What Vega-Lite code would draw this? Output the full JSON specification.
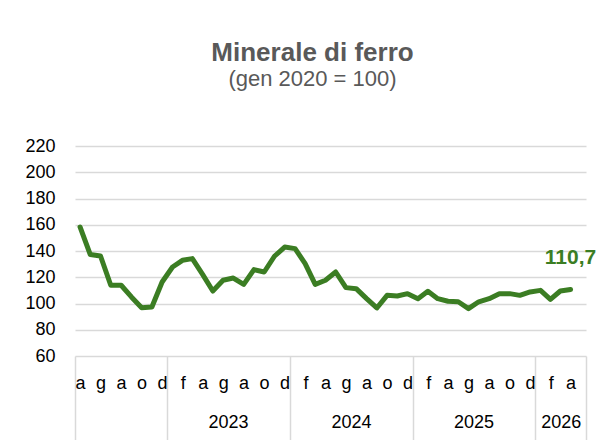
{
  "$schema": "https://vega.github.io/schema/vega-lite/v6.json",
  "width": 511,
  "height": 210,
  "autosize": {"type": "none"},
  "padding": {"left": 75, "top": 146, "right": 19, "bottom": 84},
  "background": "white",
  "config": {
    "font": "Liberation Sans, Arial, sans-serif",
    "view": {"stroke": null},
    "locale": {"number": {"decimal": ",", "thousands": ".", "grouping": [3], "currency": ["€", ""]}}
  },
  "title": {
    "text": "Minerale di ferro",
    "subtitle": "(gen 2020 = 100)",
    "anchor": "middle",
    "dx": -18,
    "offset": 47,
    "font": "Liberation Sans, Arial, sans-serif",
    "fontSize": 26,
    "fontWeight": "bold",
    "color": "#595959",
    "subtitleFont": "Liberation Sans, Arial, sans-serif",
    "subtitleFontSize": 22,
    "subtitleColor": "#595959",
    "subtitlePadding": 3
  },
  "data": {
    "values": [
      {"mese": "2022-04", "valore": 158.3},
      {"mese": "2022-05", "valore": 137.3},
      {"mese": "2022-06", "valore": 136.2},
      {"mese": "2022-07", "valore": 113.9},
      {"mese": "2022-08", "valore": 113.9},
      {"mese": "2022-09", "valore": 105.0},
      {"mese": "2022-10", "valore": 96.8},
      {"mese": "2022-11", "valore": 97.3},
      {"mese": "2022-12", "valore": 116.4},
      {"mese": "2023-01", "valore": 127.8},
      {"mese": "2023-02", "valore": 132.9},
      {"mese": "2023-03", "valore": 134.2},
      {"mese": "2023-04", "valore": 122.2},
      {"mese": "2023-05", "valore": 109.5},
      {"mese": "2023-06", "valore": 117.7},
      {"mese": "2023-07", "valore": 119.4},
      {"mese": "2023-08", "valore": 114.6},
      {"mese": "2023-09", "valore": 125.8},
      {"mese": "2023-10", "valore": 124.0},
      {"mese": "2023-11", "valore": 136.0},
      {"mese": "2023-12", "valore": 143.0},
      {"mese": "2024-01", "valore": 141.8},
      {"mese": "2024-02", "valore": 130.4},
      {"mese": "2024-03", "valore": 114.6},
      {"mese": "2024-04", "valore": 117.7},
      {"mese": "2024-05", "valore": 124.0},
      {"mese": "2024-06", "valore": 112.1},
      {"mese": "2024-07", "valore": 111.3},
      {"mese": "2024-08", "valore": 103.7},
      {"mese": "2024-09", "valore": 96.6},
      {"mese": "2024-10", "valore": 106.2},
      {"mese": "2024-11", "valore": 105.7},
      {"mese": "2024-12", "valore": 107.5},
      {"mese": "2025-01", "valore": 103.7},
      {"mese": "2025-02", "valore": 109.3},
      {"mese": "2025-03", "valore": 103.7},
      {"mese": "2025-04", "valore": 101.7},
      {"mese": "2025-05", "valore": 101.3},
      {"mese": "2025-06", "valore": 96.1},
      {"mese": "2025-07", "valore": 101.3},
      {"mese": "2025-08", "valore": 103.7},
      {"mese": "2025-09", "valore": 107.5},
      {"mese": "2025-10", "valore": 107.5},
      {"mese": "2025-11", "valore": 106.2},
      {"mese": "2025-12", "valore": 108.8},
      {"mese": "2026-01", "valore": 110.0},
      {"mese": "2026-02", "valore": 103.2},
      {"mese": "2026-03", "valore": 109.5},
      {"mese": "2026-04", "valore": 110.7}
    ]
  },
  "resolve": {"axis": {"x": "independent"}},
  "encoding": {
    "y": {
      "field": "valore",
      "type": "quantitative",
      "scale": {"domain": [60, 220], "nice": false, "zero": false},
      "axis": {
        "title": null,
        "values": [60, 80, 100, 120, 140, 160, 180, 200, 220],
        "ticks": false,
        "domain": false,
        "grid": true,
        "gridColor": "#d9d9d9",
        "gridWidth": 1.5,
        "labelPadding": 20,
        "labelFontSize": 18,
        "labelColor": "#000000",
        "labelFont": "Liberation Sans, Arial, sans-serif"
      }
    }
  },
  "layer": [
    {
      "mark": {"type": "line", "color": "#3b7d23", "strokeWidth": 5, "strokeCap": "round", "strokeJoin": "round"},
      "encoding": {
        "x": {
          "field": "mese",
          "type": "temporal",
          "timeUnit": "utcyearmonth",
          "bandPosition": 0.5,
          "scale": {
            "domain": [
              {"year": 2022, "month": 4, "date": 1, "utc": true},
              {"year": 2026, "month": 6, "date": 1, "utc": true}
            ],
            "nice": false
          },
          "axis": {
            "orient": "bottom",
            "title": null,
            "grid": false,
            "domain": false,
            "tickCount": {"interval": "month", "step": 1},
            "ticks": true,
            "tickSize": 84,
            "tickWidth": 1.5,
            "tickColor": "#d9d9d9",
            "tickOpacity": {"condition": {"test": "utcmonth(datum.value) == 0 || datum.value <= utc(2022,3,1) || datum.value >= utc(2026,5,1)", "value": 1}, "value": 0},
            "labelExpr": "utcmonth(datum.value) % 2 == 1 && datum.value < utc(2026,5,1) ? ['g','f','m','a','m','g','l','a','s','o','n','d'][utcmonth(datum.value)] : ''",
            "labelOffset": 5.1,
            "labelPadding": -66,
            "labelOverlap": false,
            "labelFlush": false,
            "labelBound": false,
            "labelFontSize": 18,
            "labelColor": "#000000",
            "labelFont": "Liberation Sans, Arial, sans-serif"
          }
        }
      }
    },
    {
      "transform": [{"filter": "utcyear(datum.mese) == 2026 && utcmonth(datum.mese) == 3"}],
      "mark": {"type": "text", "color": "#3b7d23", "fontWeight": "bold", "fontSize": 21, "dy": -31, "baseline": "middle", "align": "center", "font": "Liberation Sans, Arial, sans-serif"},
      "encoding": {
        "x": {
          "field": "mese",
          "type": "temporal",
          "timeUnit": "utcyearmonth",
          "bandPosition": 0.5,
          "axis": {
            "orient": "bottom",
            "title": null,
            "grid": false,
            "domain": false,
            "ticks": false,
            "values": [
              {"year": 2023, "month": 7, "date": 1, "utc": true},
              {"year": 2024, "month": 7, "date": 1, "utc": true},
              {"year": 2025, "month": 7, "date": 1, "utc": true},
              {"year": 2026, "month": 3, "date": 17, "hours": 12, "utc": true}
            ],
            "labelExpr": "'' + utcyear(datum.value)",
            "labelPadding": 57,
            "labelOverlap": false,
            "labelFlush": false,
            "labelBound": false,
            "labelFontSize": 18,
            "labelColor": "#000000",
            "labelFont": "Liberation Sans, Arial, sans-serif"
          }
        },
        "text": {"field": "valore", "type": "quantitative", "format": ".1f"}
      }
    }
  ]
}
